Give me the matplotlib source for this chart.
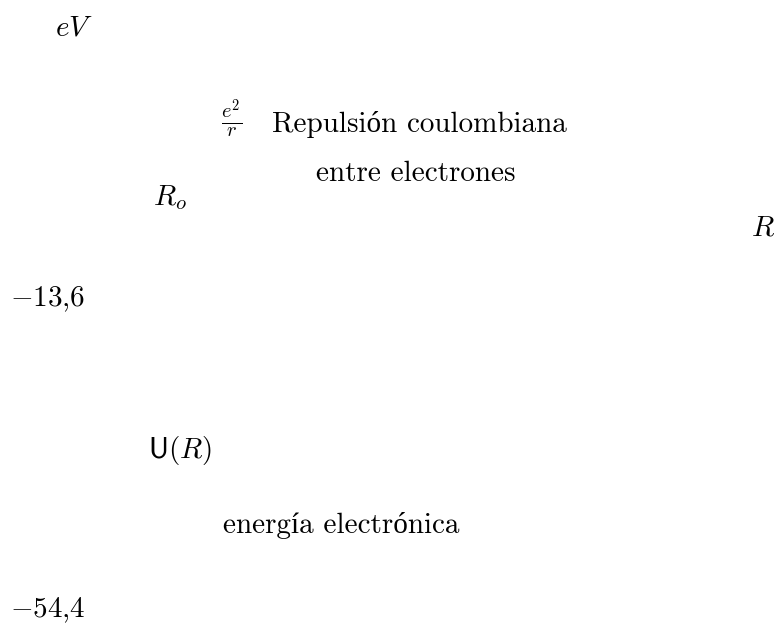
import matplotlib
matplotlib.use("Agg")
import matplotlib.pyplot as plt
import matplotlib.transforms as mtransforms

plt.rcParams["mathtext.fontset"] = "cm"
plt.rcParams["font.family"] = ["cmr10", "Liberation Serif"]
plt.rcParams["axes.formatter.use_mathtext"] = True

# Energy levels marked on the vertical axis (eV)
energy_levels = [-13.6, -54.4]

# Annotation strings
axis_unit = r"$eV$"
coulomb_term = r"$\frac{e^2}{r}$"
coulomb_text = "Repulsión coulombiana"
coulomb_text2 = "entre electrones"
r0_label = r"$R_o$"
r_label = r"$R$"
u_label = r"$\mathsf{U}(R)$"
electronic_text = "energía electrónica"

W, H = 776, 623
FS = 21

fig = plt.figure(figsize=(W / 100, H / 100), dpi=100)
ax = fig.add_axes([0, 0, 1, 1])
ax.set_axis_off()

# vertical energy scale: baselines of the two level labels in pixel rows
y_top_px, y_bot_px = 306, 617
scale = (y_bot_px - y_top_px) / (energy_levels[0] - energy_levels[1])
ax.set_ylim(energy_levels[1] - (H - y_bot_px) / scale,
            energy_levels[0] + y_top_px / scale)
ax.set_xlim(0, 1)

trans = mtransforms.blended_transform_factory(fig.transFigure, ax.transData)
for lv in energy_levels:
    txt = f"${lv:.1f}$".replace(".", "{,}")
    ax.text(10 / W, lv, txt, transform=trans, ha="left", va="baseline",
            fontsize=FS)


def place(x, y, s, va="baseline"):
    fig.text(x / W, 1 - y / H, s, ha="left", va=va, fontsize=FS)


place(55, 36, axis_unit)
place(221, 119, coulomb_term, va="center")
place(272, 132, coulomb_text)
place(316, 181, coulomb_text2)
place(153, 205, r0_label)
place(751, 235, r_label)
place(148, 458, u_label)
place(223, 533, electronic_text)

fig.savefig("out.png", dpi=100, facecolor="white")
